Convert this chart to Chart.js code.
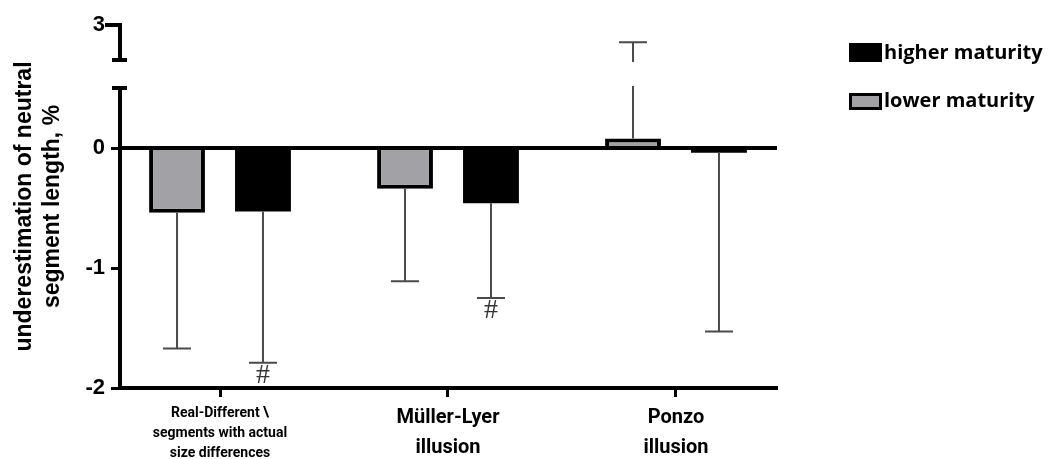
<!DOCTYPE html>
<html>
<head>
<meta charset="utf-8">
<script src="https://cdn.jsdelivr.net/npm/chart.js@4.4.0/dist/chart.umd.min.js"></script>
<style>
  html, body { margin: 0; background: #fff; }
  #wrap { width: 1049px; height: 459px; }
</style>
</head>
<body>
<div id="wrap"><canvas id="myChart"></canvas></div>
<script>
const categories = [
    ['Real-Different \\', 'segments with actual', 'size differences'],
    ['Müller-Lyer', 'illusion'],
    ['Ponzo', 'illusion']
];
const lowerMaturity = [-0.54, -0.34, 0.08];
const lowerErr = [1.13, 0.77, 2.43];
const higherMaturity = [-0.53, -0.46, -0.04];
const higherErr = [1.26, 0.79, 1.49];
const higherMarks = ['#', '#', ''];
const yTicks = [-2, -1, 0, 3];

const GRAY = '#a1a1a6';
// axis break: 0.5 .. 2 is squeezed, 2 .. 3 is compressed
const BRK_LO = 0.5, BRK_HI = 2;
function toDisp(v) {
    if (v <= BRK_LO) return v;
    if (v >= BRK_HI) return 0.733 + (v - BRK_HI) * 0.292;
    return BRK_LO + (v - BRK_LO) / (BRK_HI - BRK_LO) * 0.233;
}

class BrokenScale extends Chart.LinearScale {
    getPixelForValue(value) {
        if (value === null || value === undefined) return NaN;
        const lo = toDisp(this.min), hi = toDisp(this.max);
        return this.getPixelForDecimal((toDisp(value) - lo) / (hi - lo));
    }
}
BrokenScale.id = 'broken';
BrokenScale.defaults = Chart.LinearScale.defaults;
Chart.register(BrokenScale);

const extras = {
    id: 'extras',
    afterDatasetsDraw(chart) {
        const ctx = chart.ctx;
        const y = chart.scales.y;
        const area = chart.chartArea;
        const errs = [lowerErr, higherErr];
        ctx.save();
        // error bars
        ctx.strokeStyle = '#4a4a4a';
        ctx.lineWidth = 2;
        chart.data.datasets.forEach((ds, i) => {
            chart.getDatasetMeta(i).data.forEach((bar, j) => {
                const v = ds.data[j].y;
                const end = v + (v >= 0 ? 1 : -1) * errs[i][j];
                const py = y.getPixelForValue(end);
                ctx.beginPath();
                ctx.moveTo(bar.x, bar.y);
                ctx.lineTo(bar.x, py);
                ctx.moveTo(bar.x - 14, py);
                ctx.lineTo(bar.x + 14, py);
                ctx.stroke();
                if (i === 1 && higherMarks[j]) {
                    ctx.fillStyle = '#333';
                    ctx.font = '28px "Liberation Serif"';
                    ctx.textAlign = 'center';
                    ctx.textBaseline = 'middle';
                    ctx.fillText(higherMarks[j], bar.x, py + 13);
                }
            });
        });
        // gap of the broken axis
        const gTop = y.getPixelForValue(BRK_HI), gBot = y.getPixelForValue(BRK_LO);
        ctx.fillStyle = '#fff';
        ctx.fillRect(area.left - 14, gTop + 2, area.right - area.left + 14, gBot - gTop - 4);
        // y axis segments
        ctx.strokeStyle = '#000';
        ctx.lineWidth = 4;
        const x0 = area.left;
        ctx.beginPath();
        ctx.moveTo(x0, y.getPixelForValue(-2));
        ctx.lineTo(x0, gBot);
        ctx.moveTo(x0 - 8, gBot);
        ctx.lineTo(x0 + 7, gBot);
        ctx.moveTo(x0, y.getPixelForValue(3));
        ctx.lineTo(x0, gTop);
        ctx.moveTo(x0 - 8, gTop);
        ctx.lineTo(x0 + 7, gTop);
        ctx.moveTo(x0 - 15, y.getPixelForValue(3));
        ctx.lineTo(x0 + 2, y.getPixelForValue(3));
        ctx.stroke();
        // zero line
        const z = y.getPixelForValue(0);
        ctx.beginPath();
        ctx.moveTo(x0, z);
        ctx.lineTo(area.right, z);
        ctx.stroke();
        ctx.restore();
    },
    afterDraw(chart) {
        const ctx = chart.ctx;
        ctx.save();
        ctx.fillStyle = '#000';
        ctx.fillRect(849, 43, 33, 19);
        ctx.fillRect(849, 93, 33, 17);
        ctx.fillStyle = GRAY;
        ctx.fillRect(852, 96, 27, 11);
        ctx.fillStyle = '#000';
        ctx.font = 'bold 20px "Open Sans"';
        ctx.textAlign = 'left';
        ctx.textBaseline = 'middle';
        ctx.fillText('higher maturity', 884, 53);
        ctx.fillText('lower maturity', 884, 101);
        ctx.restore();
    }
};

const toPoints = arr => arr.map((v, i) => ({x: i, y: v}));

new Chart(document.getElementById('myChart'), {
    type: 'bar',
    data: {
        datasets: [{
            label: 'lower maturity',
            data: toPoints(lowerMaturity),
            backgroundColor: GRAY,
            borderColor: '#000',
            borderWidth: 4
        }, {
            label: 'higher maturity',
            data: toPoints(higherMaturity),
            backgroundColor: '#000',
            borderWidth: 0
        }]
    },
    options: {
        responsive: true,
        maintainAspectRatio: false,
        animation: false,
        categoryPercentage: 0.754,
        barPercentage: 0.65,
        layout: { padding: { top: 25, right: 272, left: 0, bottom: 0 } },
        plugins: {
            legend: { display: false },
            tooltip: { enabled: false }
        },
        scales: {
            x: {
                type: 'linear',
                offset: false,
                min: -0.4386,
                max: 2.443,
                border: { display: true, color: '#000', width: 4 },
                grid: { offset: false, drawOnChartArea: false, drawTicks: true, tickLength: 9, tickColor: '#000', tickWidth: 3 },
                afterBuildTicks: s => { s.ticks = categories.map((c, i) => ({value: i})); },
                afterFit: s => { s.height = 71; },
                ticks: {
                    padding: 6,
                    color: '#000',
                    autoSkip: false,
                    maxRotation: 0,
                    callback: v => categories[v],
                    font: c => c.index === 0
                        ? {family: 'Roboto', size: 14, weight: 'bold', lineHeight: 1.43}
                        : {family: 'Roboto', size: 20, weight: 'bold', lineHeight: 1.5}
                }
            },
            y: {
                type: 'broken',
                min: -2,
                max: 3,
                border: { display: false },
                grid: { drawOnChartArea: false, drawTicks: true, tickLength: 9, tickColor: '#000', tickWidth: 3 },
                afterBuildTicks: s => { s.ticks = yTicks.map(v => ({value: v})); },
                afterFit: s => { s.width = 120; },
                ticks: {
                    padding: 6,
                    color: '#000',
                    callback: v => String(v),
                    font: {family: 'Liberation Sans', size: 22, weight: 'bold'}
                },
                title: {
                    display: true,
                    text: ['underestimation of neutral', 'segment length, %'],
                    color: '#000',
                    font: {family: 'Liberation Sans', size: 23, weight: 'bold', lineHeight: 1.2},
                    padding: { top: 11, bottom: 0 }
                }
            }
        }
    },
    plugins: [extras]
});
</script>
</body>
</html>
